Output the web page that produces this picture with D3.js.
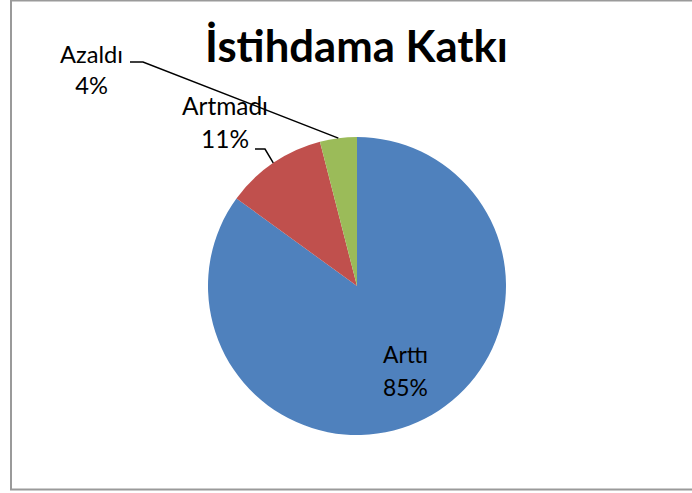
<!DOCTYPE html>
<html><head><meta charset="utf-8">
<script src="https://cdn.jsdelivr.net/npm/d3@7"></script>
<style>html,body{margin:0;padding:0;background:#fff;} svg{display:block;}</style>
</head><body>
<svg id="c" width="692" height="493"></svg>
<script>
const categories = ["Arttı", "Artmadı", "Azaldı"];
const values = [85, 11, 4];
const colors = ["#4F81BD", "#C0504D", "#9BBB59"];
const title = "İstihdama Katkı";

const svg = d3.select("#c");
const FONT = "Lato, 'Open Sans', sans-serif";

// chart frame
svg.append("rect").attr("x", 11).attr("y", 0.5).attr("width", 700).attr("height", 489)
  .attr("fill", "#fff").attr("stroke", "#9a9a9a").attr("stroke-width", 2);

const cx = 357, cy = 286, R = 149;
const g = svg.append("g").attr("transform", `translate(${cx},${cy})`);
const pie = d3.pie().sort(null).value(d => d.v).startAngle(0).endAngle(2 * Math.PI);
const data = categories.map((c, i) => ({c, v: values[i], col: colors[i]}));
const arcs = pie(data);
const arc = d3.arc().innerRadius(0).outerRadius(R);
g.selectAll("path").data(arcs).join("path").attr("d", arc).attr("fill", d => d.data.col);

const total = d3.sum(values);
const pct = v => Math.round(v / total * 100) + "%";

// fit text width helper
function fit(sel, targetW) {
  const w = sel.node().getComputedTextLength();
  const fs = parseFloat(sel.attr("font-size"));
  sel.attr("font-size", fs * targetW / w);
}

// title
const t = svg.append("text").attr("x", 356.5).attr("y", 62).attr("text-anchor", "middle")
  .attr("font-family", FONT).attr("font-weight", "bold").attr("font-size", 40).attr("fill", "#000").text(title);
fit(t, 303);

// label layout: [centerX, line1 baseline, line2 baseline, width of name]
const labelPos = {
  "Arttı": {x: 405.5, y1: 363, y2: 396, w: 45},
  "Artmadı": {x: 225, y1: 115, y2: 148, w: 86},
  "Azaldı": {x: 91.5, y1: 63, y2: 94, w: 63}
};
const leaders = {
  "Artmadı": [[255, 149], [265, 149]],
  "Azaldı": [[130, 62], [143, 62]]
};

arcs.forEach(a => {
  const p = labelPos[a.data.c];
  const t1 = svg.append("text").attr("x", p.x).attr("y", p.y1).attr("text-anchor", "middle")
    .attr("font-family", FONT).attr("font-size", 22).attr("fill", "#000").text(a.data.c);
  fit(t1, p.w);
  svg.append("text").attr("x", p.x).attr("y", p.y2).attr("text-anchor", "middle")
    .attr("font-family", FONT).attr("font-size", t1.attr("font-size")).attr("fill", "#000").text(pct(a.data.v));
  if (leaders[a.data.c]) {
    const mid = (a.startAngle + a.endAngle) / 2;
    const end = [cx + R * Math.sin(mid), cy - R * Math.cos(mid)];
    const pts = leaders[a.data.c].concat([end]);
    svg.append("path").attr("d", d3.line()(pts)).attr("fill", "none")
      .attr("stroke", "#000").attr("stroke-width", 1.5);
  }
});
</script>
</body></html>
